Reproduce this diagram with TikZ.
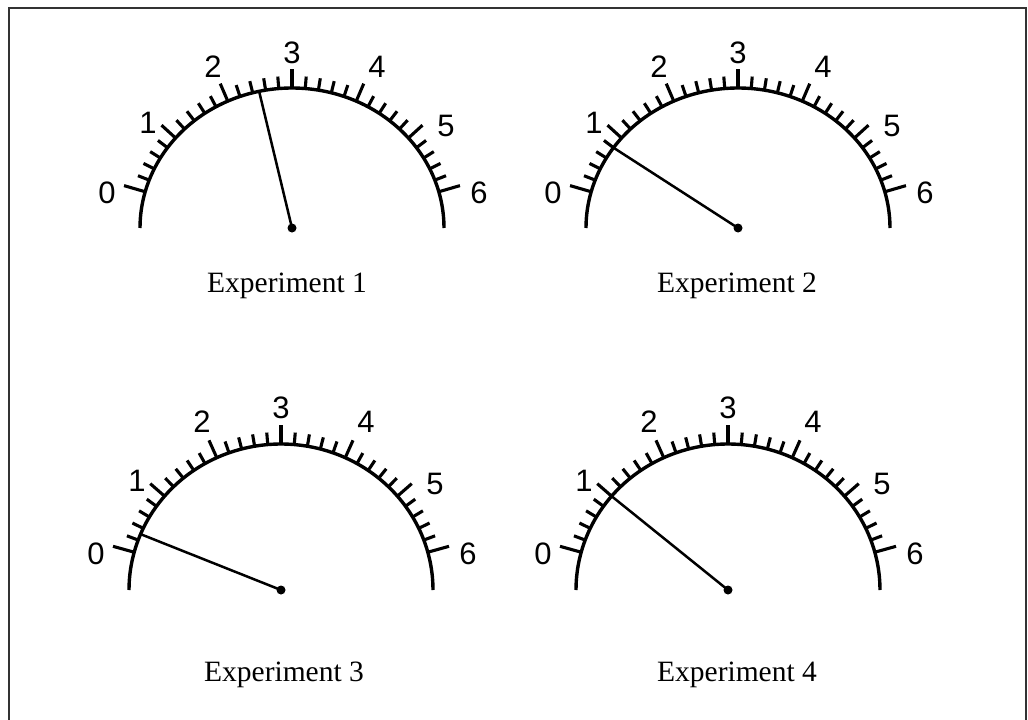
\documentclass[tikz,border=0pt]{standalone}
\usepackage{fontspec}
\setmainfont{Liberation Serif}
\newfontfamily\digitfont{Liberation Sans}
\tikzset{
  arcline/.style={line width=3.4pt},
  tickline/.style={line width=3.1pt},
  needle/.style={line width=2.5pt, line cap=round},
  digit/.style={font=\digitfont\fontsize{31}{31}\selectfont, inner sep=0pt},
  caption/.style={font=\fontsize{29.5}{30}\selectfont, inner sep=0pt, anchor=base},
  frameline/.style={line width=2pt, black!80}
}
\newcommand\gauge[5]{%
  \coordinate (#1c) at (#2,#3);
  \draw[arcline] plot[domain=0:180,samples=73,smooth] ({#2+152*cos(\x)},{#3-#4*sin(\x)});
  \foreach \i in {0,...,30}{
    \pgfmathsetmacro\t{165-5*\i}
    \pgfmathsetmacro\L{(\i==0 || \i==30) ? 22 : (mod(\i,5)==0 ? 19 : 12)}
    \pgfmathsetmacro\nx{#4/100*cos(\t)}
    \pgfmathsetmacro\ny{1.52*sin(\t)}
    \pgfmathsetmacro\nn{sqrt(\nx*\nx+\ny*\ny)}
    \draw[tickline] ({#2+152*cos(\t)},{#3-#4*sin(\t)}) -- ++({\L*\nx/\nn},{-\L*\ny/\nn});
  }
  \pgfmathsetmacro\ys{#4/140}
  \foreach \v/\dx/\dy in {0/-185/35,1/-144/105,2/-79/161,3/0/175,4/85/161,5/154/102,6/187/35}{
    \node[digit] (#1d\v) at ({#2+\dx},{#3-\dy*\ys}) {\v};
  }
  \pgfmathsetmacro\tn{165-25*#5}
  \coordinate (#1tip) at ({#2+152*cos(\tn)},{#3-#4*sin(\tn)});
  \draw[needle] (#1c) -- (#1tip);
  \fill (#1c) circle[radius=4.5];
}
\begin{document}
\begin{tikzpicture}[x=1pt,y=-1pt]
\useasboundingbox (0,0) rectangle (1028,720);
\coordinate (fbl) at (9,720);
\coordinate (ftl) at (9,8);
\coordinate (ftr) at (1026,8);
\coordinate (fbr) at (1026,720);
\draw[frameline] (fbl) -- (ftl) -- (ftr) -- (fbr);

\gauge{g1}{292}{228}{140}{2.5}
\gauge{g2}{738}{228}{140}{0.8}
\gauge{g3}{281}{590}{146}{0.3}
\gauge{g4}{728}{590}{146}{1.0}

\node[caption] (cap1) at (287,292) {Experiment 1};
\node[caption] (cap2) at (737,292) {Experiment 2};
\node[caption] (cap3) at (284,681) {Experiment 3};
\node[caption] (cap4) at (737,681) {Experiment 4};
\end{tikzpicture}
\end{document}
